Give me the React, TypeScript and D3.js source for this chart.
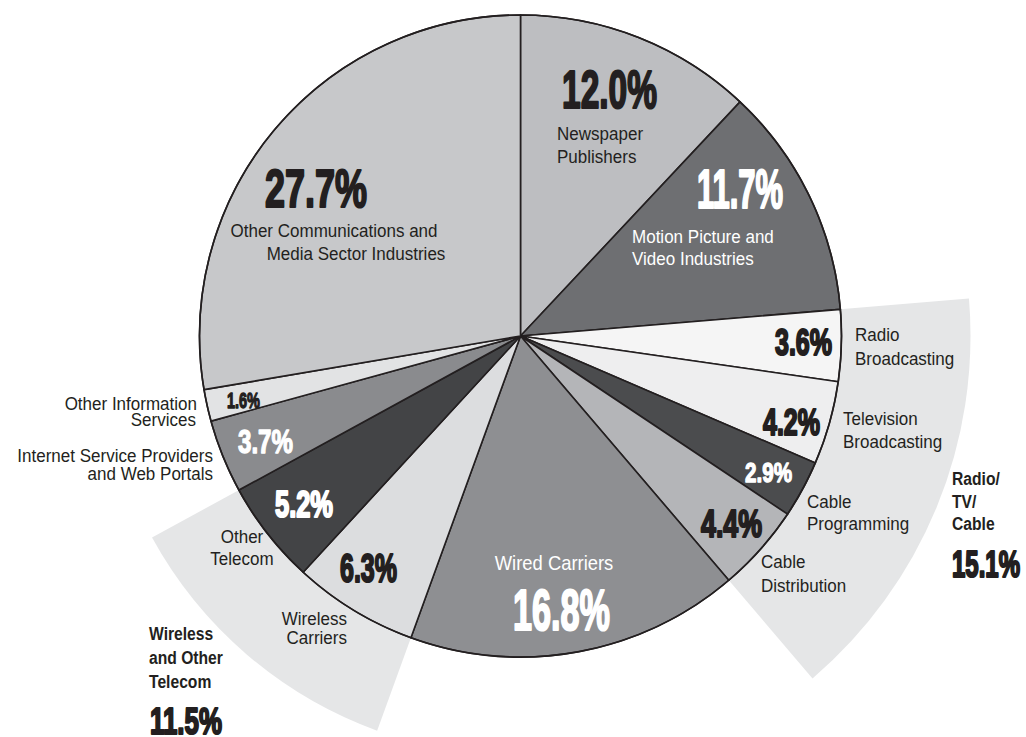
import React from "react";
import * as d3 from "d3";

// ---------- data ----------
const categories = [
  "Newspaper Publishers",
  "Motion Picture and Video Industries",
  "Radio Broadcasting",
  "Television Broadcasting",
  "Cable Programming",
  "Cable Distribution",
  "Wired Carriers",
  "Wireless Carriers",
  "Other Telecom",
  "Internet Service Providers and Web Portals",
  "Other Information Services",
  "Other Communications and Media Sector Industries",
];
const values = [12.0, 11.7, 3.6, 4.2, 2.9, 4.4, 16.8, 6.3, 5.2, 3.7, 1.6, 27.7];
const categoryLines = [
  ["Newspaper", "Publishers"],
  ["Motion Picture and", "Video Industries"],
  ["Radio", "Broadcasting"],
  ["Television", "Broadcasting"],
  ["Cable", "Programming"],
  ["Cable", "Distribution"],
  ["Wired Carriers"],
  ["Wireless", "Carriers"],
  ["Other", "Telecom"],
  ["Internet Service Providers", "and Web Portals"],
  ["Other Information", "Services"],
  ["Other Communications and", "Media Sector Industries"],
];
const groupNames = ["Radio/TV/Cable", "Wireless and Other Telecom"];
const groupLines = [["Radio/", "TV/", "Cable"], ["Wireless", "and Other", "Telecom"]];
const groupMembers = [[2, 3, 4, 5], [7, 8]];

// ---------- styles / layout ----------
const sliceColors = [
  "#bdbec1", "#6e6f72", "#f5f5f5", "#eeeeef", "#4b4c4e", "#b4b5b8",
  "#8e8f92", "#dcdddf", "#434446", "#8a8b8e", "#e2e3e4", "#c7c8ca",
];
const DARK = "#231f20";
const WHITE = "#ffffff";
const CX = 520.5;
const CY = 336;
const R = 321;
const bandRadius = [450, 420];
const bandColor = "#e5e6e7";
const FONT = "'Liberation Sans', Arial, Helvetica, sans-serif";

// percent labels: center x, baseline y, glyph height, width, colour
const pctLayout = [
  { x: 609.5, y: 108, h: 40, w: 95, c: DARK },
  { x: 740, y: 208, h: 41, w: 86, c: WHITE },
  { x: 803.5, y: 355, h: 28, w: 57, c: DARK },
  { x: 791.5, y: 435, h: 28, w: 57, c: DARK },
  { x: 768.5, y: 482, h: 20, w: 47, c: WHITE },
  { x: 731.5, y: 537, h: 29, w: 61, c: DARK },
  { x: 561.5, y: 630, h: 42, w: 97, c: WHITE },
  { x: 368.5, y: 582, h: 30, w: 57, c: DARK },
  { x: 304, y: 517, h: 27, w: 58, c: WHITE },
  { x: 265.5, y: 453, h: 24, w: 55, c: WHITE },
  { x: 243.5, y: 408, h: 16, w: 33, c: DARK },
  { x: 316, y: 207, h: 40, w: 102, c: DARK },
];
// name labels: x per line, first baseline, line step, anchor, colour, size
const nameLayout = [
  { xs: [557, 557], y: 140, dy: 23, a: "start", c: DARK, s: 18.5 },
  { xs: [632, 632], y: 243, dy: 22, a: "start", c: WHITE, s: 18.5 },
  { xs: [855, 855], y: 341, dy: 24, a: "start", c: DARK, s: 18.5 },
  { xs: [843, 843], y: 425, dy: 23, a: "start", c: DARK, s: 18.5 },
  { xs: [807, 807], y: 508, dy: 22, a: "start", c: DARK, s: 18.5 },
  { xs: [761, 761], y: 568, dy: 24, a: "start", c: DARK, s: 18.5 },
  { xs: [554], y: 570, dy: 0, a: "middle", c: WHITE, s: 20 },
  { xs: [347, 347], y: 625, dy: 18.5, a: "end", c: DARK, s: 18.5 },
  { xs: [242, 242], y: 543, dy: 22, a: "middle", c: DARK, s: 18.5 },
  { xs: [213, 213], y: 462, dy: 18, a: "end", c: DARK, s: 18.5 },
  { xs: [197, 196], y: 410, dy: 16, a: "end", c: DARK, s: 18.5 },
  { xs: [334, 356], y: 237, dy: 23, a: "middle", c: DARK, s: 18.5 },
];
const groupLayout = [
  { x: 952, y: 485, dy: 22.5, px: 986, py: 577, ph: 27, pw: 68 },
  { x: 149, y: 640, dy: 24, px: 186, py: 734, ph: 28, pw: 72 },
];

const fmt = d3.format(".1f");

function Pct({ x, y, h, w, c, text }) {
  const size = h / 0.74;
  return (
    <text
      x={x}
      y={y}
      textAnchor="middle"
      fontFamily={FONT}
      fontWeight="bold"
      fontSize={size}
      fill={c}
      stroke={c}
      strokeWidth={h > 25 ? 2.2 : 1.3}
      strokeLinejoin="round"
      textLength={w}
      lengthAdjust="spacingAndGlyphs"
    >
      {text}
    </text>
  );
}

function Line({ x, y, text, anchor, size, color, sx, bold }) {
  return (
    <text
      transform={`translate(${x},${y}) scale(${sx},1)`}
      textAnchor={anchor}
      fontSize={size}
      fontFamily={FONT}
      fontWeight={bold ? "bold" : "normal"}
      fill={color}
    >
      {text}
    </text>
  );
}

export default function App() {
  const pie = d3.pie<number>().sort(null).value((d) => d);
  const arcs = pie(values);
  const arcGen = d3.arc<d3.PieArcDatum<number>>().innerRadius(0).outerRadius(R);

  const bands = groupMembers.map((m, gi) => {
    const a0 = arcs[m[0]].startAngle;
    const a1 = arcs[m[m.length - 1]].endAngle;
    const path = d3.arc()({
      innerRadius: 0,
      outerRadius: bandRadius[gi],
      startAngle: a0,
      endAngle: a1,
    } as any);
    return { path, total: d3.sum(m.map((i) => values[i])) };
  });

  return (
    <svg
      width={1026}
      height={737}
      style={{ position: "absolute", left: 0, top: 0, background: "#fff" }}
    >
      <rect width={1026} height={737} fill="#fff" />
      <g transform={`translate(${CX},${CY})`}>
        {bands.map((b, i) => (
          <path key={groupNames[i]} d={b.path as string} fill={bandColor} />
        ))}
        {arcs.map((a, i) => (
          <path
            key={categories[i]}
            d={arcGen(a) as string}
            fill={sliceColors[i]}
            stroke={DARK}
            strokeWidth={1.6}
            strokeLinejoin="round"
          />
        ))}
        <circle r={R} fill="none" stroke={DARK} strokeWidth={1.6} />
      </g>

      {categoryLines.map((lines, i) => {
        const L = nameLayout[i];
        return (
          <g key={"n" + i}>
            {lines.map((ln, j) => (
              <Line
                key={j}
                x={L.xs[j]}
                y={L.y + j * L.dy}
                text={ln}
                anchor={L.a}
                size={L.s}
                color={L.c}
                sx={0.92}
                bold={false}
              />
            ))}
          </g>
        );
      })}

      {values.map((v, i) => (
        <Pct key={"p" + i} {...pctLayout[i]} text={fmt(v) + "%"} />
      ))}

      {groupLines.map((lines, gi) => {
        const L = groupLayout[gi];
        return (
          <g key={"g" + gi}>
            {lines.map((ln, j) => (
              <Line
                key={j}
                x={L.x}
                y={L.y + j * L.dy}
                text={ln}
                anchor="start"
                size={18}
                color={DARK}
                sx={0.87}
                bold={true}
              />
            ))}
            <Pct
              x={L.px}
              y={L.py}
              h={L.ph}
              w={L.pw}
              c={DARK}
              text={fmt(bands[gi].total) + "%"}
            />
          </g>
        );
      })}
    </svg>
  );
}
